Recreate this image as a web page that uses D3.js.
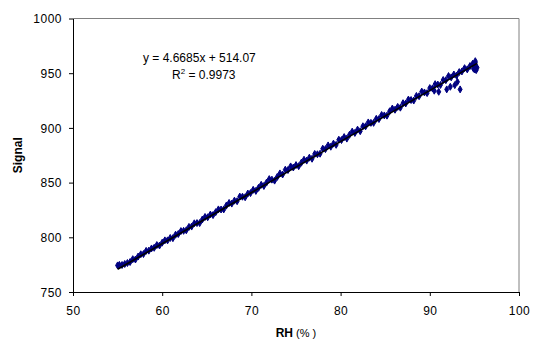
<!DOCTYPE html>
<html>
<head>
<meta charset="utf-8">
<script src="https://cdn.jsdelivr.net/npm/d3@7"></script>
<style>
  body { margin: 0; background: #fff; }
  svg { display: block; font-family: "Liberation Sans", Arial, sans-serif; }
</style>
</head>
<body>
<div id="chart"></div>
<script>
// Chart size and plot area
const width = 537;
const height = 349;
const marginTop = 18.5;
const marginRight = 18;
const marginBottom = 57;
const marginLeft = 73;

// Data: relative humidity (%) and sensor signal
const rh = [
  55.0, 55.2, 55.5, 55.8, 56.1, 56.4, 56.7, 57.0, 57.3, 57.6, 57.9, 58.2, 58.5, 58.8,
  59.1, 59.4, 59.7, 60.0, 60.3, 60.6, 60.9, 61.2, 61.5, 61.8, 62.1, 62.4, 62.7, 63.0,
  63.3, 63.6, 63.9, 64.2, 64.5, 64.8, 65.1, 65.4, 65.7, 66.0, 66.3, 66.6, 66.9, 67.2,
  67.5, 67.8, 68.1, 68.4, 68.7, 69.0, 69.3, 69.6, 69.9, 70.2, 70.5, 70.8, 71.1, 71.4,
  71.7, 72.0, 72.3, 72.6, 72.9, 73.2, 73.5, 73.8, 74.1, 74.4, 74.7, 75.0, 75.3, 75.6,
  75.9, 76.2, 76.5, 76.8, 77.1, 77.4, 77.7, 78.0, 78.3, 78.6, 78.9, 79.2, 79.5, 79.8,
  80.1, 80.4, 80.7, 81.0, 81.3, 81.6, 81.9, 82.2, 82.5, 82.8, 83.1, 83.4, 83.7, 84.0,
  84.3, 84.6, 84.9, 85.2, 85.5, 85.8, 86.1, 86.4, 86.7, 87.0, 87.3, 87.6, 87.9, 88.2,
  88.5, 88.8, 89.1, 89.4, 89.7, 90.0, 90.3, 90.6, 90.9, 91.2, 91.5, 91.8, 92.1, 92.4,
  92.7, 93.0, 93.3, 93.6, 93.9, 94.2, 94.5, 94.8, 95.0, 95.1, 95.2, 95.3, 95.0, 95.2,
  94.9, 95.1,
  // readings that fall below the main band
  90.5, 91.0, 91.9, 92.3, 92.8, 93.1, 93.4
];
const signal = [
  774.3, 774.8, 774.7, 775.6, 776.5, 777.4, 780.0, 779.7, 782.4, 784.5, 784.7, 787.6, 787.8, 789.8,
  790.4, 792.9, 792.5, 795.1, 797.2, 797.2, 799.4, 799.2, 802.4, 803.0, 805.7, 805.9, 806.4, 809.5,
  809.8, 812.8, 813.0, 813.0, 816.3, 818.6, 818.3, 820.8, 820.3, 823.0, 825.5, 825.4, 825.5, 829.1,
  831.4, 830.8, 833.5, 833.0, 837.2, 837.1, 836.6, 840.0, 840.4, 843.4, 842.4, 845.2, 848.0, 846.9,
  850.0, 853.2, 852.7, 851.8, 855.2, 858.4, 857.4, 861.8, 861.5, 864.8, 863.8, 866.0, 865.0, 868.2,
  870.9, 870.1, 872.8, 871.8, 876.2, 875.9, 876.4, 881.0, 880.6, 884.0, 882.8, 885.6, 884.5, 889.2,
  888.9, 891.6, 890.2, 893.7, 896.6, 895.4, 898.4, 897.0, 901.5, 901.4, 905.0, 904.6, 904.6, 908.3,
  908.1, 911.8, 911.4, 911.2, 915.2, 917.7, 916.6, 919.2, 918.5, 922.6, 922.3, 925.9, 925.5, 925.0,
  929.2, 929.0, 933.2, 932.4, 931.8, 936.4, 936.1, 940.0, 939.6, 939.3, 943.8, 943.6, 947.4, 946.2,
  948.8, 947.8, 951.0, 951.6, 954.6, 953.5, 956.5, 958.6, 956.6, 959.6, 956.0, 955.0, 953.5, 952.8,
  954.2, 961.0,
  934.0, 933.0, 935.2, 937.6, 939.1, 942.1, 935.2
];

// Linear trendline shown on the chart
const slope = 4.6685;
const intercept = 514.07;
const rSquared = "0.9973";

const xTicks = [50, 60, 70, 80, 90, 100];
const yTicks = [750, 800, 850, 900, 950, 1000];

const points = rh.map((d, i) => ({ x: d, y: signal[i] }));

const x = d3.scaleLinear().domain([50, 100]).range([marginLeft, width - marginRight]);
const y = d3.scaleLinear().domain([750, 1000]).range([height - marginBottom, marginTop]);

const svg = d3.select("#chart").append("svg")
  .attr("width", width)
  .attr("height", height);

// plot area frame (grey top and right edges)
svg.append("path")
  .attr("d", `M${x(50)},${y(1000)}H${x(100)}V${y(750)}`)
  .attr("fill", "none")
  .attr("stroke", "#808080")
  .attr("stroke-width", 1);

// axes
const xAxis = svg.append("g")
  .attr("transform", `translate(0,${y(750)})`)
  .call(d3.axisBottom(x).tickValues(xTicks).tickFormat(d3.format("d"))
    .tickSizeInner(4).tickSizeOuter(0).tickPadding(10));
const yAxis = svg.append("g")
  .attr("transform", `translate(${x(50)},0)`)
  .call(d3.axisLeft(y).tickValues(yTicks).tickFormat(d3.format("d"))
    .tickSizeInner(4).tickSizeOuter(0).tickPadding(7));

[xAxis, yAxis].forEach((g) => {
  g.selectAll(".domain").attr("stroke", "#000");
  g.selectAll(".tick line").attr("stroke", "#000");
  g.selectAll(".tick text")
    .attr("fill", "#000")
    .style("font-family", "'Liberation Sans', Arial, sans-serif")
    .style("font-size", "12px")
    .style("letter-spacing", "0.5px");
});
xAxis.selectAll(".tick text").attr("dy", "0.71em");
yAxis.selectAll(".tick text").attr("dy", "0.36em");

// scatter markers: small navy diamonds
const diamond = d3.symbol().type(d3.symbolDiamond).size(14);
svg.append("g")
  .selectAll("path")
  .data(points)
  .join("path")
  .attr("transform", (d) => `translate(${x(d.x)},${y(d.y)})`)
  .attr("d", diamond)
  .attr("fill", "#000080")
  .attr("stroke", "#000080")
  .attr("stroke-width", 1);

// trendline over the data range
const xMin = d3.min(rh);
const xMax = d3.max(rh);
svg.append("line")
  .attr("x1", x(xMin))
  .attr("y1", y(slope * xMin + intercept))
  .attr("x2", x(xMax))
  .attr("y2", y(slope * xMax + intercept))
  .attr("stroke", "#000")
  .attr("stroke-width", 1.6);

// equation label
const eq = svg.append("g").style("font-size", "12px").attr("fill", "#000");
eq.append("text")
  .attr("x", 143)
  .attr("y", 62)
  .text(`y = ${slope}x + ${intercept}`);
const r2 = eq.append("text").attr("x", 172).attr("y", 79);
r2.append("tspan").text("R");
r2.append("tspan").attr("dy", -5).style("font-size", "8px").text("2");
r2.append("tspan").attr("dy", 5).text(` = ${rSquared}`);

// axis titles
const xt = svg.append("text")
  .attr("x", (x(50) + x(100)) / 2)
  .attr("y", 337)
  .attr("text-anchor", "middle")
  .style("font-size", "12px");
xt.append("tspan").attr("font-weight", "bold").text("RH");
xt.append("tspan").style("font-size", "11px").text(" (% )");

svg.append("text")
  .attr("transform", `translate(22,${(y(750) + y(1000)) / 2}) rotate(-90)`)
  .attr("text-anchor", "middle")
  .attr("font-weight", "bold")
  .style("font-size", "12px")
  .text("Signal");
</script>
</body>
</html>
